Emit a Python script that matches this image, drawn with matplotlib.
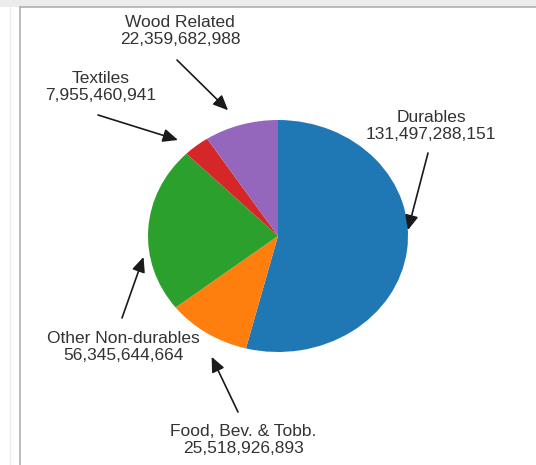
import numpy as np
import matplotlib
matplotlib.use("Agg")
import matplotlib.pyplot as plt
from matplotlib.patches import Rectangle
from matplotlib.lines import Line2D

categories = ["Durables", "Food, Bev. & Tobb.", "Other Non-durables", "Textiles", "Wood Related"]
values = [131497288151, 25518926893, 56345644664, 7955460941, 22359682988]
colors = ["#1f77b4", "#ff7f0e", "#2ca02c", "#d62728", "#9467bd"]

W, H = 536, 465
fig = plt.figure(figsize=(W / 100, H / 100), dpi=100)
fig.patch.set_facecolor("white")

# pie geometry in pixels (center, horizontal / vertical radii)
cx, cy, rx, ry = 278, 236, 130, 116
ax = fig.add_axes([0, 0, 1, 1])
ax.pie(values, colors=colors, startangle=90, counterclock=False,
       wedgeprops=dict(linewidth=0))
ax.set_aspect("auto")
ax.set_xlim(-cx / rx, (W - cx) / rx)
ax.set_ylim(-(H - cy) / ry, cy / ry)
ax.axis("off")

def px(x, y):
    return ((x - cx) / rx, (cy - y) / ry)

# label text positions (pixels), arrow start, tip radius factor, angle tweak
label_cfg = {
    "Durables": dict(text=(431, 126), start=(428, 153), r=1.0, dang=10),
    "Food, Bev. & Tobb.": dict(text=(243, 440), start=(238, 412), r=1.16, dang=7),
    "Other Non-durables": dict(text=(123, 347), start=(122, 318), r=1.05, dang=13.5),
    "Textiles": dict(text=(101, 87), start=(98, 115), r=1.13, dang=4),
    "Wood Related": dict(text=(180, 31), start=(177, 60), r=1.15, dang=3),
}

total = float(sum(values))
ang = 90.0
for cat, v in zip(categories, values):
    span = v / total * 360.0
    mid = ang - span / 2
    ang -= span
    c = label_cfg[cat]
    a = np.deg2rad(mid + c["dang"])
    tip = (c["r"] * np.cos(a), c["r"] * np.sin(a))
    ax.annotate("", xy=tip, xytext=px(*c["start"]),
                arrowprops=dict(arrowstyle="-|>,head_length=0.9,head_width=0.4",
                                color="#1a1a1a", lw=1.2, shrinkA=0, shrinkB=0))
    ax.text(*px(*c["text"]), f"{cat}\n{v:,}", ha="center", va="center",
            fontsize=12.5, family="Liberation Sans", color="#333333",
            linespacing=1.15)

# window frame remnants
fig.patches.append(Rectangle((0, 1 - 7 / H), 1, 7 / H, transform=fig.transFigure,
                             facecolor="#ececec", edgecolor="none"))
fig.lines.append(Line2D([20 / W, 1], [1 - 7 / H, 1 - 7 / H], transform=fig.transFigure,
                        color="#b0b0b0", lw=1.2))
fig.lines.append(Line2D([20 / W, 20 / W], [0, 1 - 7 / H], transform=fig.transFigure,
                        color="#b0b0b0", lw=1.2))
fig.lines.append(Line2D([10 / W, 10 / W], [0, 1 - 7 / H], transform=fig.transFigure,
                        color="#ececec", lw=1.0))

fig.savefig("out.png", dpi=100)
